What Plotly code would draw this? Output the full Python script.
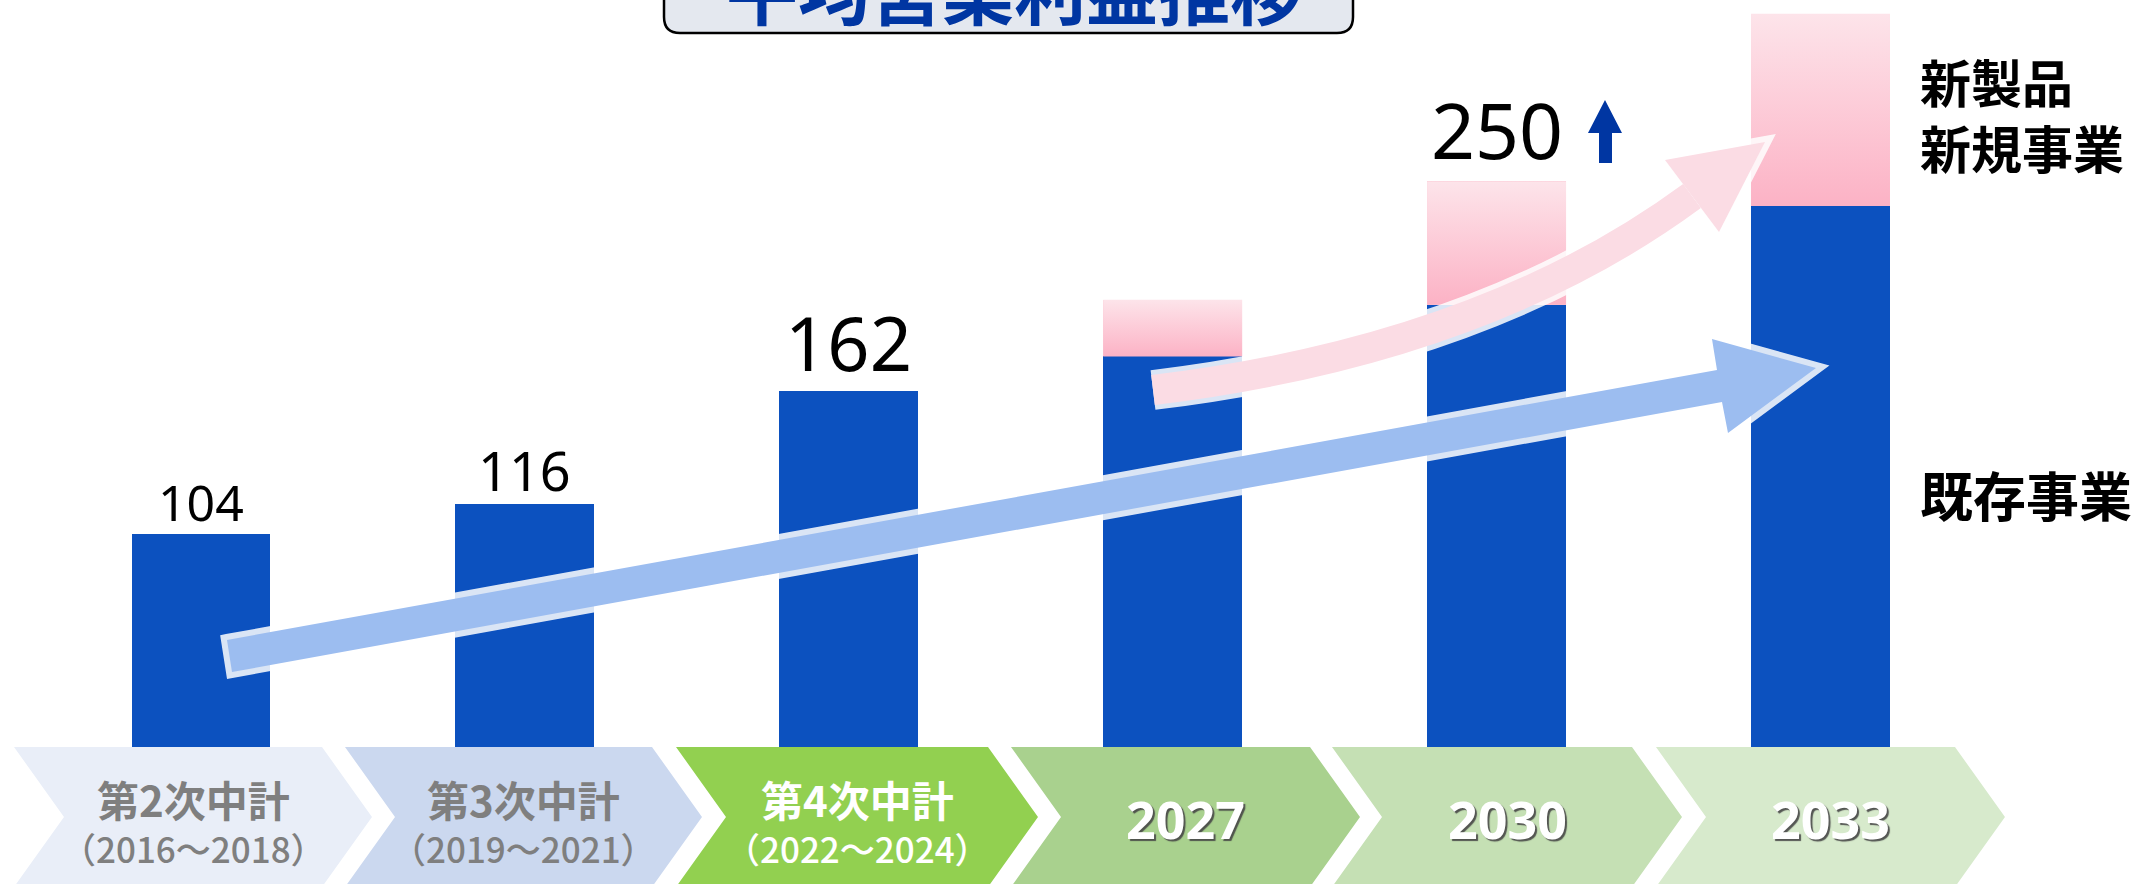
import plotly.graph_objects as go

# ---------------- data ----------------
periods = ["第2次中計", "第3次中計", "第4次中計", "2027", "2030", "2033"]
period_years = ["（2016～2018）", "（2019～2021）", "（2022～2024）", "", "", ""]
existing_business = [104, 116, 162, 176, 197, 237]
new_business = [0, 0, 0, 23, 50, 78]
value_labels = ["104", "116", "162", "", "250", ""]
title_text = "平均営業利益推移"
series_new_label = ["新製品", "新規事業"]
series_existing_label = "既存事業"

# ---------------- styling / layout ----------------
W, H = 2139, 884
BLUE = "#0C51BF"
PINK_MID = "#FCC9D5"
PINK_TOP = "#FDE4EA"
PINK_BOTTOM = "#FCB2C5"
ARROW_BLUE = "#9CBDF0"
ARROW_PINK = "#FBDCE4"
TITLE_BLUE = "#0036A2"
JP = "Noto Sans CJK JP"

chev_left = [14, 345, 676, 1011, 1332, 1656]
chev_right = [322, 652, 988, 1310, 1632, 1955]
chev_colors = ["#E9EEF8", "#CBD8EF", "#92D050", "#A9D18E", "#C5E0B4", "#D7EACC"]
chev_text_colors = ["#7F7F7F", "#7F7F7F", "#FFFFFF", "#FFFFFF", "#FFFFFF", "#FFFFFF"]
label_sizes = [50, 54, 74, 0, 77, 0]
label_yshift = [-4, -5, -4, 0, -3, 0]

BAR_W = 0.429
idx = list(range(len(periods)))


def px(x):
    return x / W


def py(y):
    return 1 - y / H


def path(points, close=True):
    s = "M " + " L ".join(f"{px(x):.5f},{py(y):.5f}" for x, y in points)
    return s + (" Z" if close else "")


fig = go.Figure()

fig.add_trace(go.Bar(x=idx, y=existing_business, width=BAR_W, marker=dict(color=BLUE, line=dict(width=0)),
                     name=series_existing_label, hoverinfo="skip"))
fig.add_trace(go.Bar(x=idx, y=new_business, width=BAR_W, marker=dict(color=PINK_MID, line=dict(width=0)),
                     name="".join(series_new_label), hoverinfo="skip"))

# gradient overlay on the new-business segments
for i, (e, n) in enumerate(zip(existing_business, new_business)):
    if n <= 0:
        continue
    x0, x1 = i - BAR_W / 2, i + BAR_W / 2
    fig.add_trace(go.Scatter(
        x=[x0, x1, x1, x0, x0], y=[e, e, e + n, e + n, e],
        mode="none", fill="toself", hoverinfo="skip", showlegend=False,
        fillgradient=dict(type="vertical", colorscale=[[0, PINK_BOTTOM], [1, PINK_TOP]],
                          start=e, stop=e + n),
    ))

shapes = []
annotations = []

# chevrons
for i in idx:
    xl, xr = chev_left[i], chev_right[i]
    shapes.append(dict(type="path", xref="paper", yref="paper", layer="above",
                       path=path([(xl, 747), (xr, 747), (xr + 50, 817), (xr, 887), (xl, 887), (xl + 50, 817)]),
                       fillcolor=chev_colors[i], line=dict(width=0)))
    cx = px((xl + 50 + xr) / 2)
    if period_years[i]:
        annotations.append(dict(xref="paper", yref="paper", x=cx, y=py(820), xanchor="center", yanchor="middle",
                                text=(f"<span style='font-size:42px;font-weight:bold'>{periods[i]}</span>"
                                      f"<br>{period_years[i]}"),
                                showarrow=False,
                                font=dict(family=JP, size=35, weight=500, color=chev_text_colors[i])))
    else:
        annotations.append(dict(xref="paper", yref="paper", x=cx, y=py(818), xanchor="center", yanchor="middle",
                                text=f"<b>{periods[i]}</b>", showarrow=False,
                                font=dict(family="Noto Sans", size=52, color=chev_text_colors[i],
                                          shadow="2px 2px 1px rgba(70,70,70,0.9)")))

# blue (existing business) arrow
blue_arrow = [(227, 640), (1717, 370), (1712, 339), (1816, 368), (1728, 433), (1722, 402), (232, 672)]
shapes.append(dict(type="path", xref="paper", yref="paper", layer="above", path=path(blue_arrow),
                   fillcolor="white", line=dict(color="white", width=12), opacity=0.85))
shapes.append(dict(type="path", xref="paper", yref="paper", layer="above", path=path(blue_arrow),
                   fillcolor=ARROW_BLUE, line=dict(width=0)))

# pink (new business) curved arrow
curve = (f"M {px(1153):.5f},{py(390):.5f} Q {px(1483):.5f},{py(350):.5f} {px(1692):.5f},{py(196):.5f}")
pink_head = [(1665, 160), (1765, 142), (1719, 232)]
shapes.append(dict(type="path", xref="paper", yref="paper", layer="above", path=curve,
                   line=dict(color="white", width=40), opacity=0.85))
shapes.append(dict(type="path", xref="paper", yref="paper", layer="above", path=path(pink_head),
                   fillcolor="white", line=dict(color="white", width=12), opacity=0.85))
shapes.append(dict(type="path", xref="paper", yref="paper", layer="above", path=curve,
                   line=dict(color=ARROW_PINK, width=30)))
shapes.append(dict(type="path", xref="paper", yref="paper", layer="above", path=path(pink_head),
                   fillcolor=ARROW_PINK, line=dict(width=0)))

# value labels on bars
for i in idx:
    if not value_labels[i]:
        continue
    annotations.append(dict(x=i, y=existing_business[i] + new_business[i], xref="x", yref="y",
                            text=value_labels[i], showarrow=False, xanchor="center", yanchor="bottom",
                            yshift=label_yshift[i],
                            font=dict(family="Noto Sans", size=label_sizes[i], color="black")))

# small up-arrow next to 250
shapes.append(dict(type="path", xref="paper", yref="paper", layer="above",
                   path=path([(1605, 100), (1622, 133), (1612, 133), (1612, 163), (1599, 163), (1599, 133), (1588, 133)]),
                   fillcolor=TITLE_BLUE, line=dict(width=0)))

# right-side series labels
annotations.append(dict(xref="paper", yref="paper", x=px(1918), y=py(114), xanchor="left", yanchor="middle",
                        align="left", text=f"<b>{series_new_label[0]}<br>{series_new_label[1]}</b>",
                        showarrow=False, font=dict(family=JP, size=51, color="black")))
annotations.append(dict(xref="paper", yref="paper", x=px(1918), y=py(494), xanchor="left", yanchor="middle",
                        text=f"<b>{series_existing_label}</b>", showarrow=False,
                        font=dict(family=JP, size=53, color="black")))

# title box (cut off at top)
r = 16
shapes.append(dict(type="path", xref="paper", yref="paper", layer="above",
                   path=(f"M {px(664):.5f},{py(-60):.5f} L {px(664):.5f},{py(33 - r):.5f} "
                         f"Q {px(664):.5f},{py(33):.5f} {px(664 + r):.5f},{py(33):.5f} "
                         f"L {px(1353 - r):.5f},{py(33):.5f} Q {px(1353):.5f},{py(33):.5f} {px(1353):.5f},{py(33 - r):.5f} "
                         f"L {px(1353):.5f},{py(-60):.5f} Z"),
                   fillcolor="#E4E8EF", line=dict(color="black", width=2.5)))
annotations.append(dict(xref="paper", yref="paper", x=px(1014), y=py(42), xanchor="center", yanchor="bottom",
                        text=f"<b>{title_text}</b>", showarrow=False,
                        font=dict(family=JP, size=72, color=TITLE_BLUE)))

fig.update_layout(
    width=W, height=H, margin=dict(l=0, r=0, t=0, b=0),
    paper_bgcolor="white", plot_bgcolor="white",
    barmode="stack", showlegend=False,
    xaxis=dict(range=[-201 / 323.9, (W - 201) / 323.9], domain=[0, 1], visible=False, fixedrange=True),
    yaxis=dict(range=[17.6, 320.58], domain=[137 / H, 1], visible=False, fixedrange=True),
    shapes=shapes, annotations=annotations,
)

fig.write_html("out.html", config={"displayModeBar": False},
               post_script="document.body.style.margin='0';document.body.style.overflow='hidden';")
